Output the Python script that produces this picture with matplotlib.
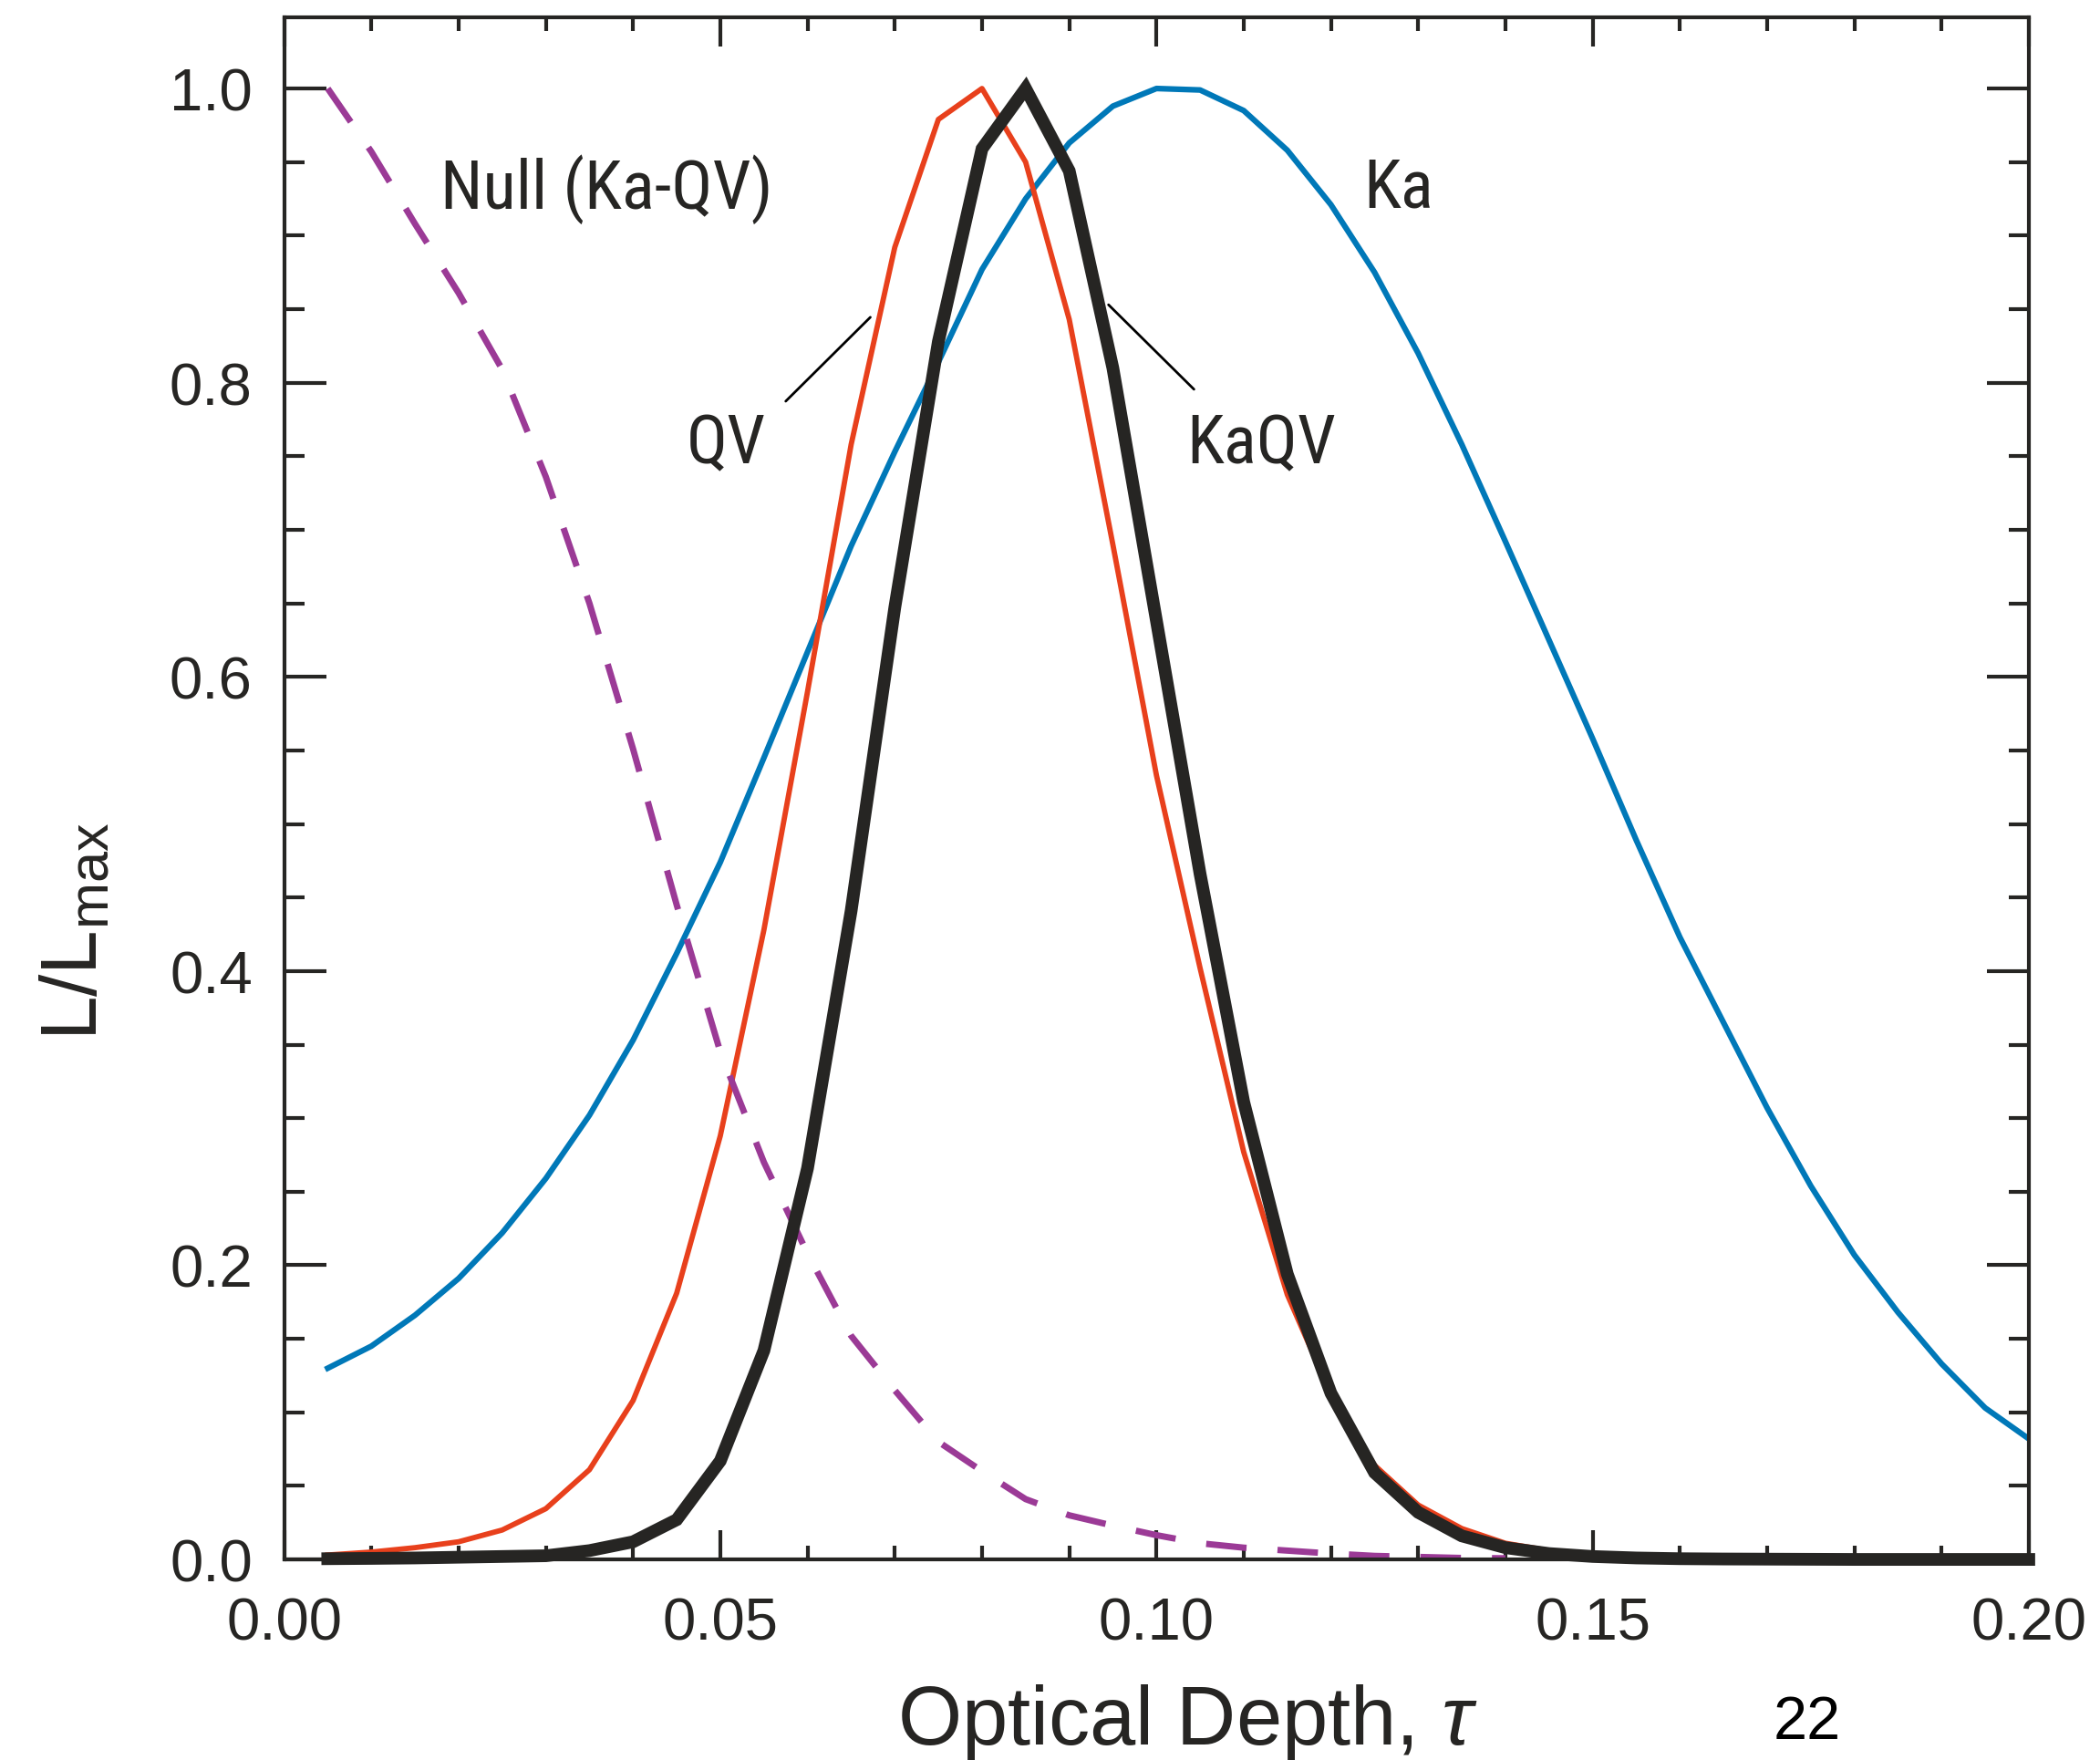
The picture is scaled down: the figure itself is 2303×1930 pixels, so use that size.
import numpy as np
import matplotlib
matplotlib.use('Agg')
import matplotlib.pyplot as plt
from matplotlib import font_manager
from matplotlib.ticker import MultipleLocator, FormatStrFormatter

#--dados--#
tau = [0.005, 0.010, 0.015, 0.020, 0.025, 0.030, 0.035, 0.040, 0.045, 0.050,
       0.055, 0.060, 0.065, 0.070, 0.075, 0.080, 0.085, 0.090, 0.095, 0.100,
       0.105, 0.110, 0.115, 0.120, 0.125, 0.130, 0.135, 0.140, 0.145, 0.150,
       0.155, 0.160, 0.165, 0.170, 0.175, 0.180, 0.185, 0.190, 0.195, 0.200]

ka = [0.130, 0.145, 0.166, 0.191, 0.222, 0.259, 0.302, 0.353, 0.412, 0.474,
      0.545, 0.617, 0.689, 0.753, 0.814, 0.877, 0.925, 0.963, 0.988, 1.000,
      0.999, 0.985, 0.958, 0.921, 0.875, 0.820, 0.758, 0.692, 0.625, 0.558,
      0.489, 0.423, 0.365, 0.307, 0.254, 0.207, 0.168, 0.133, 0.103, 0.082]

qv = [0.003, 0.005, 0.008, 0.012, 0.020, 0.0345, 0.061, 0.108, 0.181, 0.288,
      0.428, 0.590, 0.758, 0.892, 0.979, 1.000, 0.950, 0.843, 0.690, 0.533,
      0.402, 0.277, 0.180, 0.112, 0.064, 0.037, 0.021, 0.011, 0.006, 0.003,
      0.0015, 0.001, 0.0005, 0.0003, 0.0002, 0.0001, 0.0001, 0.0, 0.0, 0.0]

kaqv = [0.0005, 0.0007, 0.001, 0.0015, 0.002, 0.0025, 0.006, 0.012, 0.027, 0.067,
        0.142, 0.266, 0.441, 0.647, 0.828, 0.959, 1.000, 0.944, 0.810, 0.638,
        0.466, 0.311, 0.194, 0.113, 0.059, 0.032, 0.016, 0.008, 0.004, 0.002,
        0.001, 0.0005, 0.0003, 0.0002, 0.0001, 0.0, 0.0, 0.0, 0.0, 0.0]

null = [1.0, 0.957, 0.908, 0.861, 0.809, 0.736, 0.650, 0.551, 0.445, 0.345,
        0.270, 0.208, 0.152, 0.115, 0.080, 0.060, 0.041, 0.030, 0.023, 0.0165,
        0.011, 0.008, 0.006, 0.004, 0.0024, 0.0017, 0.001, 0.0008]

#--estilo--#
ink = '#262523'
plt.rcParams['font.family'] = ['Liberation Sans', 'DejaVu Sans']
plt.rcParams['mathtext.fontset'] = 'custom'
plt.rcParams['mathtext.rm'] = 'Liberation Sans'
plt.rcParams['mathtext.it'] = 'Liberation Sans:italic'

#fonte estreita para os rotulos das curvas, se houver
nomes = set(f.name for f in font_manager.fontManager.ttflist)
narrow = None
for nome in ['Liberation Sans Narrow', 'DejaVu Sans Condensed', 'Roboto Condensed',
             'Open Sans Condensed', 'Noto Sans Condensed']:
    if nome in nomes:
        narrow = nome
        break
if narrow:
    lab_font = [narrow, 'DejaVu Sans']
    lab_size = 54
else:
    lab_font = ['Liberation Sans', 'DejaVu Sans']
    lab_size = 49

fig = plt.figure(figsize=(23.03, 19.31), dpi=100)
ax = fig.add_axes([0.1353, 0.1139, 0.8308, 0.8760])

#curvas
ax.plot(tau, ka, color='#0078b8', lw=4.5)
ax.plot(tau, qv, color='#e8401c', lw=4.2)
ax.plot(tau[:len(null)], null, color='#9b3a96', lw=5.0, dashes=(6.4, 4.9))
ax.plot(tau, kaqv, color=ink, lw=10, solid_joinstyle='miter', zorder=3, clip_on=False)

#eixos
ax.set_xlim(0, 0.20)
ax.set_ylim(0, 1.0487)
ax.xaxis.set_major_locator(MultipleLocator(0.05))
ax.xaxis.set_minor_locator(MultipleLocator(0.01))
ax.yaxis.set_major_locator(MultipleLocator(0.2))
ax.yaxis.set_minor_locator(MultipleLocator(0.05))
ax.xaxis.set_major_formatter(FormatStrFormatter('%.2f'))
ax.yaxis.set_major_formatter(FormatStrFormatter('%.1f'))

for s in ax.spines.values():
    s.set_linewidth(3.0)
    s.set_color(ink)

ax.tick_params(which='both', direction='in', top=True, right=True, color=ink, width=3.0)
ax.tick_params(axis='x', which='major', length=23, pad=29, labelsize=47, labelcolor=ink)
ax.tick_params(axis='x', which='minor', length=11)
ax.tick_params(axis='y', which='major', length=33, pad=25, labelsize=47, labelcolor=ink)
ax.tick_params(axis='y', which='minor', length=16)

#titulos
ax.set_xlabel('Optical Depth, $\\tau$', fontsize=65, color=ink, va='baseline')
ax.xaxis.set_label_coords(0.518, -0.1195)
ax.set_ylabel('L/L$_{\\mathrm{max}}$', fontsize=63, color=ink, va='center')
ax.yaxis.set_label_coords(-0.119, 0.408)
ax.text(0.873, -0.1157, '22', transform=ax.transAxes, fontsize=48,
        ha='center', va='baseline', color='black')

#rotulos das curvas
ax.text(0.0179, 0.9188, 'Null (Ka-QV)', family=lab_font, fontsize=lab_size, color=ink, va='baseline')
ax.text(0.1237, 0.9195, 'Ka', family=lab_font, fontsize=lab_size, color=ink, va='baseline')
ax.text(0.0461, 0.7456, 'QV', family=lab_font, fontsize=lab_size, color=ink, va='baseline')
ax.text(0.1035, 0.7456, 'KaQV', family=lab_font, fontsize=lab_size, color=ink, va='baseline')
ax.annotate('', xy=(0.0672, 0.8445), xytext=(0.0575, 0.7874),
            arrowprops=dict(arrowstyle='-', color='black', lw=2.0, shrinkA=0, shrinkB=0))
ax.annotate('', xy=(0.0945, 0.853), xytext=(0.1043, 0.7955),
            arrowprops=dict(arrowstyle='-', color='black', lw=2.0, shrinkA=0, shrinkB=0))

fig.savefig('out.png', dpi=100)
